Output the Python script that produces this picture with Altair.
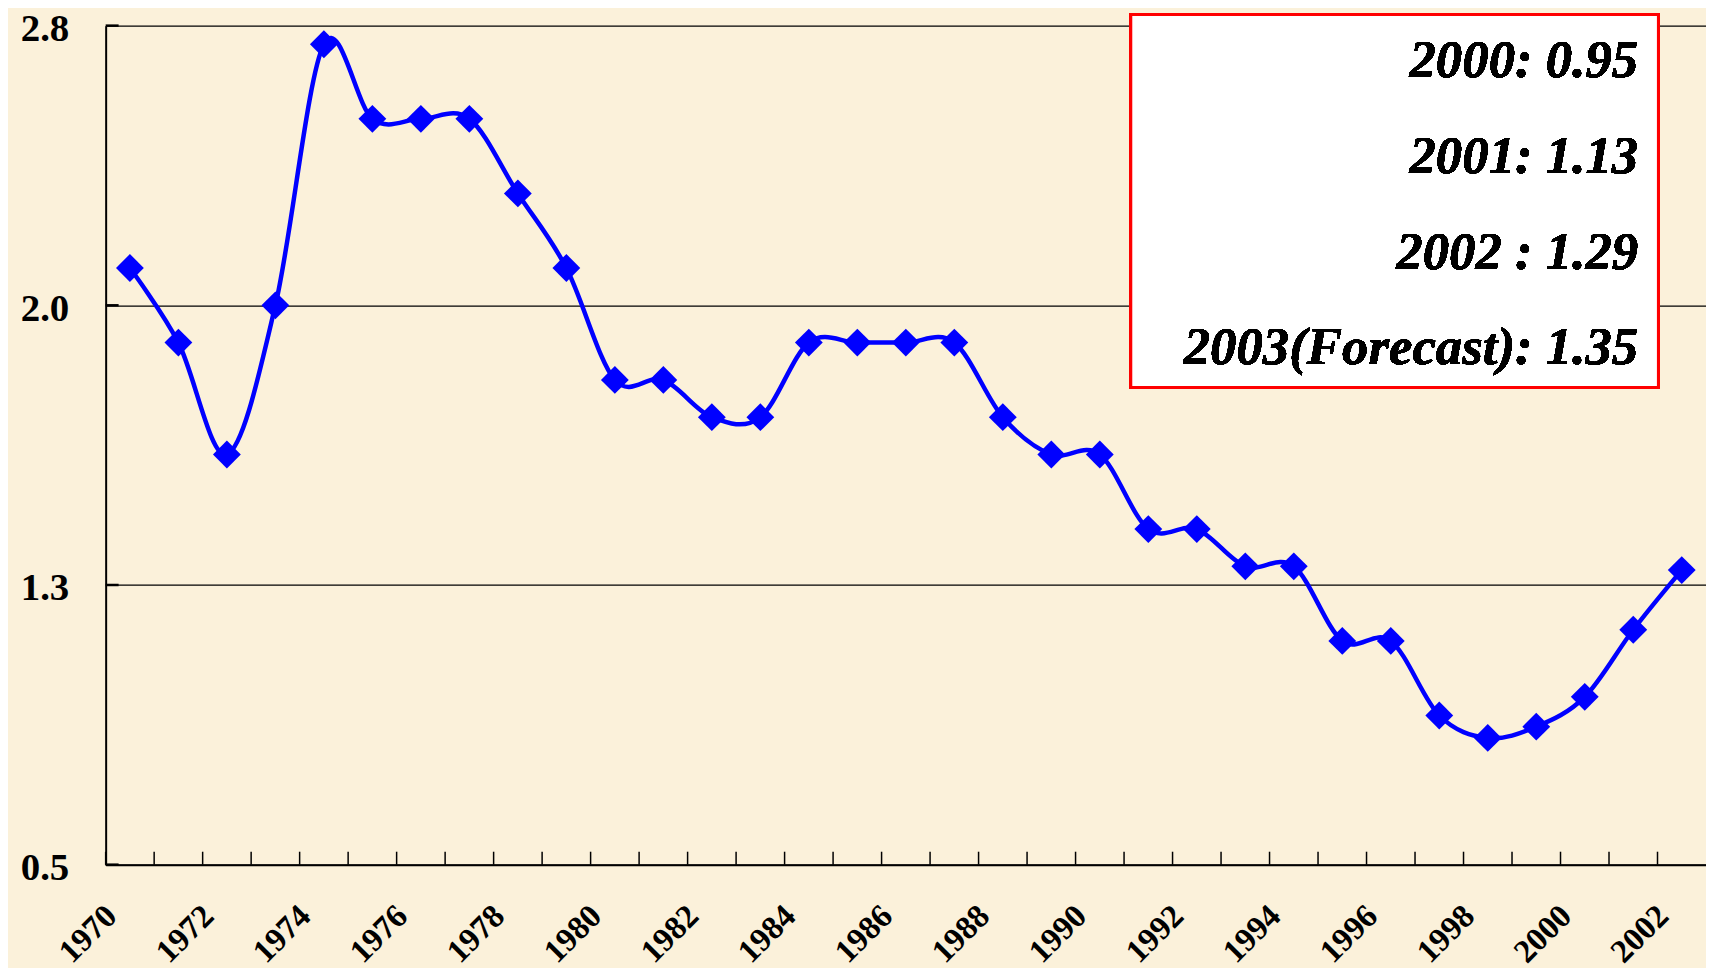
import altair as alt
import pandas as pd

# ---- data ----
years = list(range(1970, 2003))
values = [2.10, 1.90, 1.60, 2.00, 2.70, 2.50, 2.50, 2.50, 2.30, 2.10,
          1.80, 1.80, 1.70, 1.70, 1.90, 1.90, 1.90, 1.90, 1.70, 1.60,
          1.60, 1.40, 1.40, 1.30, 1.30, 1.10, 1.10, 0.90, 0.84, 0.87,
          0.95, 1.13, 1.29]
x_label_years = list(range(1970, 2003, 2))
y_ticks = [0.5, 1.25, 2.0, 2.75]
y_labels = ["0.5", "1.3", "2.0", "2.8"]
note_lines = ["2000: 0.95", "2001: 1.13", "2002 : 1.29", "2003(Forecast): 1.35"]

W, H = 1606, 842
FONT = "Liberation Serif"
BLUE = "#0000FF"

df = pd.DataFrame({"year": years, "value": values})
ydf = pd.DataFrame({"v": y_ticks})

label_expr = ""
for v, l in zip(y_ticks, y_labels):
    label_expr += f"datum.value == {v} ? '{l}' : "
label_expr += "''"

x_scale = alt.Scale(domain=[years[0] - 0.5, years[-1] + 0.5], nice=False, zero=False)
y_scale = alt.Scale(domain=[y_ticks[0], y_ticks[-1]], nice=False, zero=False)

x_axis = alt.Axis(values=x_label_years, format="d", labelAngle=-45, labelAlign="right",
                  labelBaseline="middle", labelOffset=-19, labelPadding=46, ticks=False,
                  grid=False, domainColor="black", domainWidth=2, labelFont=FONT,
                  labelFontSize=33, labelFontWeight="bold", labelColor="black",
                  title=None, labelFlush=False, labelOverlap=False)
y_axis = alt.Axis(values=y_ticks, labelExpr=label_expr, grid=True, gridColor="black",
                  gridWidth=1.2, ticks=False, domainColor="black", domainWidth=2,
                  labelFont=FONT, labelFontSize=39, labelFontWeight="bold",
                  labelColor="black", labelPadding=37, labelOffset=3,
                  labelFlush=False, title=None)

base = alt.Chart(df)

line = base.mark_line(color=BLUE, strokeWidth=4.5, interpolate="cardinal").encode(
    x=alt.X("year:Q", scale=x_scale, axis=x_axis),
    y=alt.Y("value:Q", scale=y_scale, axis=y_axis),
)
points = base.mark_point(shape="diamond", filled=True, color=BLUE, size=780, opacity=1).encode(
    x=alt.X("year:Q", scale=x_scale),
    y=alt.Y("value:Q", scale=y_scale),
)
xticks = base.transform_calculate(edge="datum.year - 0.5").mark_rule(
    color="black", strokeWidth=1.5).encode(
    x=alt.X("edge:Q", scale=x_scale),
    y=alt.value(H - 13), y2=alt.value(H),
)
yticks = alt.Chart(ydf).mark_rule(color="black", strokeWidth=2.5).encode(
    y=alt.Y("v:Q", scale=y_scale),
    x=alt.value(0), x2=alt.value(13),
)

box = alt.Chart(df).mark_rect(fill="white", stroke="#FF0000", strokeWidth=2.5).encode(
    x=alt.value(1029), x2=alt.value(1558), y=alt.value(-11), y2=alt.value(363)
)
notes = []
for i, t in enumerate(note_lines):
    notes.append(
        alt.Chart(df).mark_text(text=t, font=FONT, fontSize=53, fontWeight="bold",
                                fontStyle="italic", align="right", baseline="alphabetic",
                                color="black").encode(
            x=alt.value(1538), y=alt.value(52 + i * 96)
        )
    )

chart = alt.layer(xticks, yticks, line, points, box, *notes).properties(
    width=W, height=H,
    padding={"left": 98, "top": 16, "right": 0, "bottom": 102},
    autosize=alt.AutoSizeParams(type="none"),
    background="#FBF1DA",
).configure_view(stroke=None)

chart.save("out.html", embed_options={"renderer": "svg", "actions": False})
